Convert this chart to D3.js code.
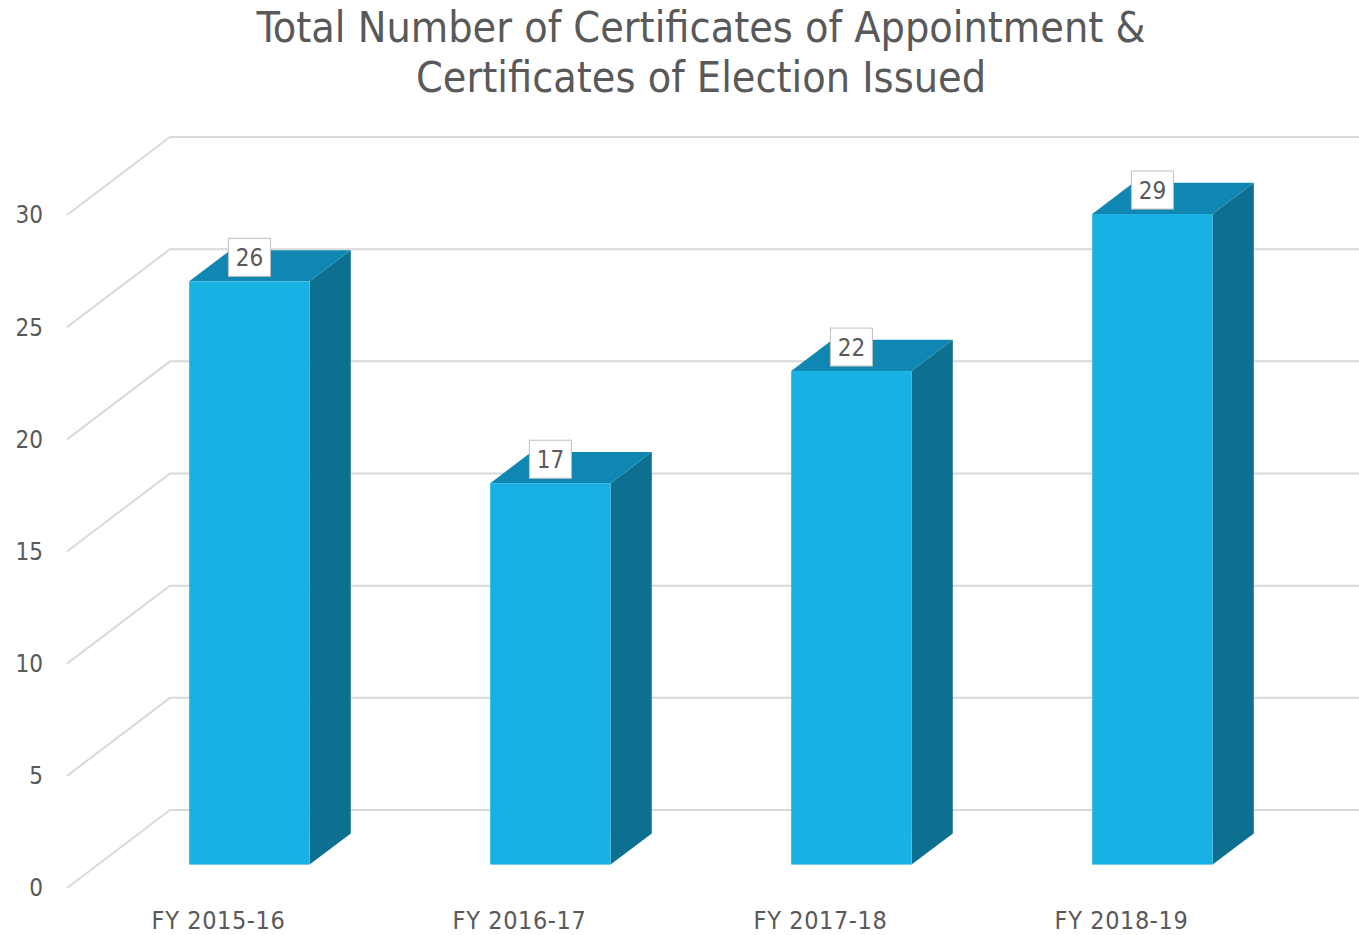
<!DOCTYPE html>
<html>
<head>
<meta charset="utf-8">
<script src="https://cdn.jsdelivr.net/npm/d3@7"></script>
<style>
  body { margin: 0; background: #fff; }
  text { font-family: "DejaVu Sans Condensed", "DejaVu Sans", sans-serif; font-stretch: condensed; fill: #595959; }
</style>
</head>
<body>
<div id="chart"></div>
<script>
// Certificates issued per fiscal year
const categories = ["FY 2015-16", "FY 2016-17", "FY 2017-18", "FY 2018-19"];
const values = [26, 17, 22, 29];
const yTicks = [0, 5, 10, 15, 20, 25, 30];

const width = 1359;
const height = 935;

// depth of the 3D box (full floor depth), in pixels
const depthX = 103;
const depthY = -78;
const barFront = 0.3, barBack = 0.7;
const axisX = 67;

const svg = d3.select("#chart")
    .append("svg")
    .attr("width", width)
    .attr("height", height);

const x = d3.scaleBand()
    .domain(categories)
    .range([68, 68 + 4 * 301])
    .padding(0);

const y = d3.scaleLinear()
    .domain([0, 30])
    .range([888, 215]);

// project a front-plane point back by depth d (0..1)
const P = (px, py, d) => [px + d * depthX, py + d * depthY];

// gridlines: side wall diagonal + back wall horizontal
const grid = svg.append("g");
yTicks.forEach(t => {
    const a = P(axisX, y(t), 0), b = P(axisX, y(t), 1);
    grid.append("path")
        .attr("d", `M${a[0]},${a[1]}L${b[0]},${b[1]}L${width},${b[1]}`)
        .attr("fill", "none")
        .attr("stroke", "#d9d9d9")
        .attr("stroke-width", 2);
});

// y axis labels
svg.append("g").selectAll("text")
    .data(yTicks)
    .enter().append("text")
    .attr("x", 43)
    .attr("y", d => y(d))
    .attr("dy", "0.35em")
    .attr("text-anchor", "end")
    .style("font-size", "24px")
    .text(d => d);

// bars
const barW = x.bandwidth() * 0.4;
const bars = svg.append("g").selectAll("g")
    .data(categories.map((c, i) => ({ cat: c, value: values[i] })))
    .enter().append("g");

bars.each(function (d) {
    const g = d3.select(this);
    const cx = x(d.cat) + x.bandwidth() / 2;
    const [fx, fy0] = P(cx - barW / 2, y(0), barFront);
    const [, fy1] = P(cx, y(d.value), barFront);
    const dx = (barBack - barFront) * depthX, dy = (barBack - barFront) * depthY;
    // right side
    g.append("path")
        .attr("d", `M${fx + barW},${fy1}L${fx + barW + dx},${fy1 + dy}L${fx + barW + dx},${fy0 + dy}L${fx + barW},${fy0}Z`)
        .attr("fill", "#0e7091");
    // top
    g.append("path")
        .attr("d", `M${fx},${fy1}L${fx + dx},${fy1 + dy}L${fx + barW + dx},${fy1 + dy}L${fx + barW},${fy1}Z`)
        .attr("fill", "#1087b3");
    // front
    g.append("rect")
        .attr("x", fx)
        .attr("y", fy1)
        .attr("width", barW)
        .attr("height", fy0 - fy1)
        .attr("fill", "#18b1e3");
    // data label
    const lx = fx + barW / 2, ly = fy1 - 24;
    g.append("rect")
        .attr("x", lx - 21)
        .attr("y", ly - 19)
        .attr("width", 42)
        .attr("height", 38)
        .attr("fill", "#fff")
        .attr("stroke", "#bfbfbf")
        .attr("stroke-width", 1);
    g.append("text")
        .attr("x", lx)
        .attr("y", ly)
        .attr("dy", "0.36em")
        .attr("text-anchor", "middle")
        .style("font-size", "24px")
        .text(d.value);
});

// x axis labels
svg.append("g").selectAll("text")
    .data(categories)
    .enter().append("text")
    .attr("x", d => x(d) + x.bandwidth() / 2)
    .attr("y", 929)
    .attr("text-anchor", "middle")
    .style("font-size", "25px")
    .style("letter-spacing", "0.6px")
    .text(d => d);

// title
const title = svg.append("text")
    .attr("x", 701)
    .attr("text-anchor", "middle")
    .style("font-size", "42.7px");
title.append("tspan").attr("x", 701).attr("y", 42).text("Total Number of Certificates of Appointment &");
title.append("tspan").attr("x", 701).attr("y", 92).text("Certificates of Election Issued");
</script>
</body>
</html>
